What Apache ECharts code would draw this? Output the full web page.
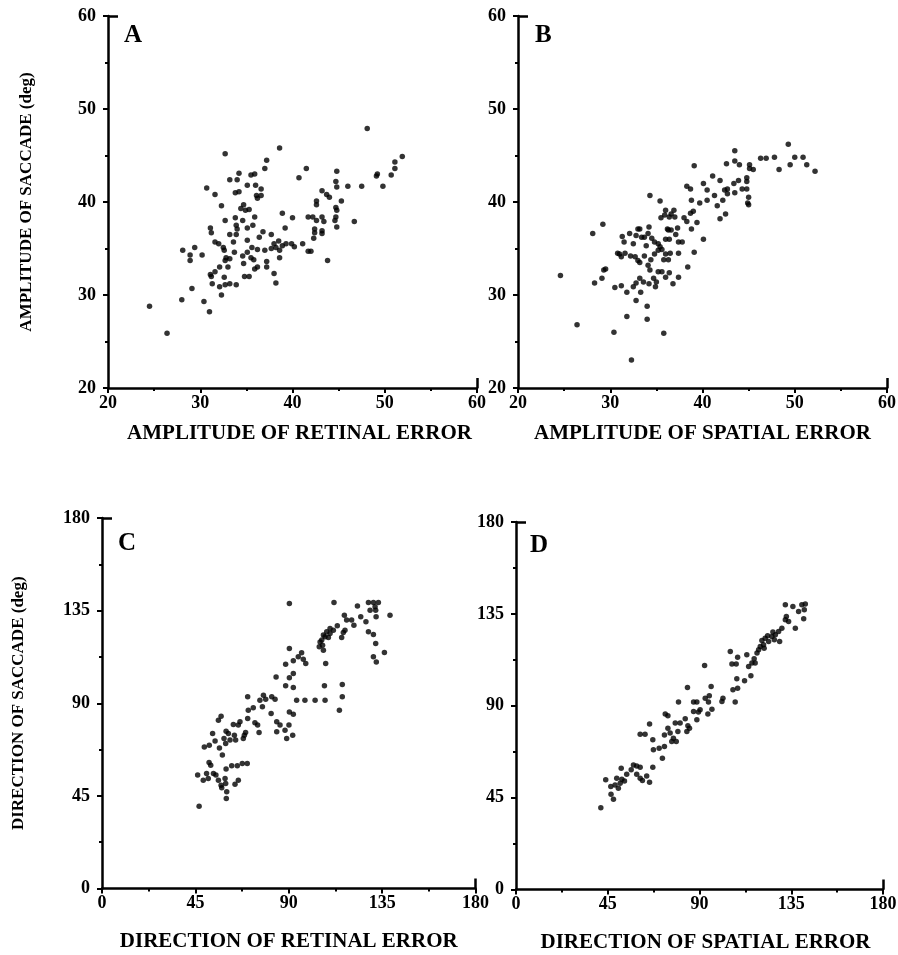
<!DOCTYPE html>
<html>
<head>
<meta charset="utf-8">
<script src="https://cdn.jsdelivr.net/npm/echarts@6.0.0/dist/echarts.min.js"></script>
<style>
  html, body { margin: 0; padding: 0; background: #fff; }
  #chart { width: 898px; height: 955px; }
</style>
</head>
<body>
<div id="chart"></div>
<script>
// A: amplitude of retinal error vs amplitude of saccade (deg)
const retinalAmp = [
  24.5,28.0,30.4,31.0,29.1,32.3,28.1,29.4,28.9,28.9,
  30.2,30.7,31.6,32.7,32.3,32.7,31.1,31.2,31.6,32.0,
  32.5,32.6,33.2,33.2,34.0,34.2,33.8,34.2,35.1,35.5,
  35.9,36.0,36.6,36.1,36.2,36.6,34.7,34.4,34.9,35.3,
  33.8,34.6,33.9,34.0,35.1,35.7,35.9,36.8,36.4,37.7,
  33.9,33.6,35.1,33.7,34.6,35.1,35.6,35.5,35.8,34.7,
  36.2,37.0,32.8,33.2,32.7,33.0,32.1,31.6,31.1,31.2,
  32.6,31.3,32.1,32.7,33.2,33.9,34.8,35.3,35.9,36.2,
  37.2,37.2,38.0,38.2,38.6,37.2,37.0,38.9,40.0,39.2,
  40.7,37.7,38.0,38.5,38.9,39.3,39.9,40.2,38.6,38.6,38.2,26.4,
  48.1,51.9,51.1,51.1,50.7,49.1,49.2,49.8,47.5,46.0,
  44.8,44.7,44.8,45.3,43.2,43.7,44.0,42.6,42.6,44.7,
  44.8,44.7,44.6,44.8,46.7,43.2,43.4,42.2,41.7,42.6,
  42.4,42.4,43.2,43.2,42.3,41.5,41.1,41.7,42.0,43.8
];
const saccadeAmpA = [
  28.8,29.5,29.3,28.2,30.7,30.0,34.8,35.1,34.3,33.7,
  34.3,41.5,40.8,45.2,39.6,38.0,37.2,36.7,35.7,35.5,
  35.1,34.8,36.5,42.4,42.4,43.1,41.0,41.1,41.8,42.9,
  43.0,41.8,41.4,40.7,40.4,40.7,39.7,39.3,39.1,39.2,
  38.3,38.0,37.5,37.1,37.2,37.5,38.4,36.8,36.2,36.5,
  36.5,35.7,35.9,34.6,34.2,34.6,35.1,34.0,33.8,33.4,
  34.9,34.8,34.0,33.9,33.7,33.0,33.0,32.5,32.2,32.0,
  31.9,31.2,30.9,31.1,31.2,31.1,32.0,32.0,32.8,33.0,
  33.6,33.0,32.3,31.3,45.8,44.5,43.6,38.8,38.3,37.2,
  42.6,35.0,35.5,35.8,35.3,35.5,35.5,35.2,34.8,34.0,35.1,25.9,
  47.9,44.9,44.3,43.6,42.9,42.8,43.0,41.7,41.7,41.7,
  43.3,42.2,41.6,40.1,41.2,40.8,40.5,40.1,39.7,39.4,
  39.1,38.4,38.0,37.3,37.9,38.4,37.9,38.4,38.4,38.0,
  37.1,36.7,36.9,36.6,36.1,43.6,35.5,34.7,34.7,33.7
];

// B: amplitude of spatial error vs amplitude of saccade (deg)
const spatialAmp = [
  24.6,26.4,28.1,29.2,28.3,29.1,29.3,29.5,30.5,31.2,
  31.8,30.4,32.3,31.8,32.8,33.3,34.0,34.0,35.8,32.5,
  32.8,33.2,33.6,34.2,34.7,34.9,35.0,35.6,36.0,36.4,
  36.8,37.4,38.4,39.1,40.1,31.3,31.5,30.8,31.2,31.0,
  31.6,32.1,32.5,32.2,32.7,33.0,33.2,33.0,33.2,32.8,
  33.4,33.7,34.2,34.1,34.5,33.9,34.8,35.2,35.4,33.7,
  34.4,34.8,35.2,35.6,36.0,35.8,36.5,36.3,37.4,34.1,
  34.3,35.2,36.2,36.0,36.4,36.3,36.6,37.1,37.3,37.4,
  37.8,35.5,35.9,36.0,36.4,36.6,36.9,37.0,35.4,34.3,
  38.0,38.3,38.7,39.0,39.4,38.8,38.8,39.7,38.3,38.7,
  39.1,40.1,
  40.5,41.1,41.9,40.5,41.3,41.6,42.2,41.9,42.5,42.4,
  42.7,42.7,42.6,43.5,43.5,44.0,43.4,43.9,43.5,44.3,
  44.8,44.8,44.8,45.1,45.1,45.5,45.0,44.9,45.0,46.3,
  46.9,47.8,48.3,49.3,49.5,50.0,50.9,51.3,52.2
];
const saccadeAmpB = [
  32.1,26.8,36.6,37.6,31.3,31.8,32.7,32.8,30.8,31.0,
  30.3,26.0,23.0,27.7,29.4,30.3,28.8,27.4,25.9,30.9,
  31.3,31.8,31.4,31.2,31.8,30.9,31.4,32.5,31.9,32.4,
  31.2,31.9,33.0,34.6,36.0,36.3,35.7,34.5,34.1,34.4,
  34.5,36.6,35.5,34.2,34.1,33.7,33.5,37.1,37.1,36.4,
  36.2,36.2,37.3,36.6,36.1,35.3,35.7,35.5,35.2,34.2,
  33.8,34.4,34.8,34.9,34.4,33.8,34.5,33.8,34.5,33.2,
  32.7,32.5,37.1,36.0,36.0,37.0,37.0,36.5,37.2,35.7,
  35.7,38.3,38.6,39.1,38.4,38.7,39.1,38.4,40.1,40.7,
  38.3,37.9,38.8,39.0,37.8,37.1,40.2,39.9,41.7,41.4,
  43.9,42.0,
  41.3,42.8,42.3,40.2,40.7,39.6,40.2,38.2,38.7,41.3,
  41.4,40.9,44.1,45.5,44.4,44.0,42.0,42.3,41.0,41.4,
  41.4,42.6,42.2,44.0,43.6,43.5,40.5,39.9,39.7,44.7,
  44.7,44.8,43.5,46.2,44.0,44.8,44.8,44.0,43.3
];

// C: direction of retinal error vs direction of saccade (deg)
const retinalDir = [
  46.8,46.1,48.8,50.4,51.6,52.4,51.2,53.7,54.9,56.1,
  57.4,57.7,59.3,59.6,60.1,59.9,59.8,62.5,65.2,67.6,
  70.0,64.1,65.7,49.3,51.7,53.3,54.5,56.6,58.0,58.8,
  59.8,60.9,59.6,61.7,63.3,63.8,64.4,65.7,66.5,68.6,
  69.2,68.1,56.1,57.4,70.2,70.5,72.9,73.7,75.0,75.7,
  70.2,76.1,77.3,77.8,78.9,81.8,83.4,81.5,84.2,85.8,
  84.2,88.2,90.1,89.0,91.9,83.9,
  90.3,111.8,123.1,128.4,130.8,133.2,131.6,129.2,131.9,132.1,
  138.8,116.8,117.9,120.3,121.4,124.7,127.2,113.4,117.1,116.3,
  115.5,109.9,108.3,107.5,106.7,105.9,105.1,104.7,106.7,106.3,
  109.1,128.4,130.8,131.9,136.1,130.8,132.2,107.8,90.3,88.5,
  92.2,94.6,96.2,97.0,98.2,92.2,90.3,88.5,92.2,107.2,
  115.8,115.8,114.4,93.8,97.8,102.7,107.5,90.3,92.2,
  109.9,111.5
];
const saccadeDirC = [
  40.0,55.1,52.6,55.9,61.2,59.9,53.4,55.9,55.1,52.6,
  50.2,48.9,53.4,51.0,47.0,43.7,58.0,59.6,59.6,60.7,
  60.7,50.7,52.6,68.8,69.6,75.3,71.6,68.3,64.8,72.9,
  76.4,75.3,70.4,72.1,79.7,74.5,72.1,79.4,81.0,74.5,
  75.8,72.9,81.8,83.7,82.6,86.6,87.8,80.5,79.4,75.8,
  93.1,91.5,88.3,93.9,92.0,93.1,92.0,85.0,81.0,79.4,
  76.1,76.9,79.4,72.9,74.5,102.8,
  138.5,139.0,137.3,139.0,139.0,139.0,136.9,135.2,135.2,132.0,
  132.8,132.8,130.4,130.4,127.9,132.0,129.6,127.6,125.5,124.4,
  122.0,123.9,124.7,122.3,123.1,120.7,119.8,117.4,115.8,118.2,
  122.0,124.7,123.4,119.0,114.7,112.6,110.1,109.3,116.6,109.0,
  110.6,112.6,114.5,111.4,109.3,104.5,102.4,98.5,97.7,98.5,
  99.1,93.1,86.6,91.5,91.5,91.5,91.5,85.8,84.7,
  126.3,125.5
];

// D: direction of spatial error vs direction of saccade (deg)
const spatialDir = [
  41.6,44.0,46.6,47.8,46.5,48.6,50.2,49.4,51.1,51.9,
  53.2,51.6,54.3,56.5,57.6,59.2,60.9,59.2,60.9,62.0,
  64.1,65.5,67.1,60.9,63.3,65.5,67.1,67.4,70.2,71.8,
  72.8,72.8,74.5,73.2,74.5,75.6,77.2,78.6,76.4,79.4,
  78.1,80.5,79.7,83.0,83.8,84.3,85.1,84.1,87.1,88.7,
  88.7,89.5,90.3,92.8,94.8,94.1,
  87.1,94.4,96.1,95.7,92.5,101.5,101.0,107.5,106.4,108.7,
  112.1,115.2,108.3,105.1,105.9,108.0,108.7,113.2,114.1,115.7,
  117.3,116.8,118.2,119.8,119.0,121.4,122.2,123.4,123.9,125.5,
  127.2,126.7,129.3,128.8,130.4,132.1,132.6,133.7,137.0,132.1,
  135.8,140.2,141.9,141.4,138.6,141.1,126.0,120.6,121.7
];
const saccadeDirD = [
  40.0,53.7,46.7,44.2,50.4,51.2,49.6,54.5,52.1,54.0,
  53.2,59.4,56.5,58.6,61.0,60.5,59.9,56.5,54.5,53.4,
  55.6,52.5,59.9,76.1,76.1,81.1,73.3,68.4,69.2,64.3,
  70.0,75.7,79.0,86.0,85.1,76.6,74.1,72.5,72.5,77.4,
  81.5,81.5,91.8,83.6,77.4,80.2,79.0,98.9,91.8,91.8,
  83.1,86.9,88.0,93.7,94.9,86.0,
  87.2,91.8,88.3,99.4,109.7,93.7,92.1,91.8,97.8,98.6,
  102.2,104.7,103.2,116.6,110.4,110.4,113.8,115.0,109.2,110.9,
  110.9,113.0,115.8,119.0,117.4,119.9,123.1,124.3,121.5,123.9,
  124.8,122.3,121.5,126.4,128.0,132.1,133.7,131.3,128.0,139.5,
  138.6,139.5,139.8,137.0,136.2,132.6,126.1,122.0,118.2
];

const panelLetters = ['A', 'B', 'C', 'D'];
const xNames = ['AMPLITUDE OF RETINAL ERROR', 'AMPLITUDE OF SPATIAL ERROR',
                'DIRECTION OF RETINAL ERROR', 'DIRECTION OF SPATIAL ERROR'];
const yNames = ['AMPLITUDE OF SACCADE (deg)', '', 'DIRECTION OF SACCADE (deg)', ''];
const ampRange = [20, 60, 10];   // min, max, interval
const dirRange = [0, 180, 45];

const FONT = '"Liberation Serif", "Times New Roman", serif';
const BLACK = '#000';

const chart = echarts.init(document.getElementById('chart'), null, {renderer: 'canvas'});

const panels = [
  {x: retinalAmp, y: saccadeAmpA, range: ampRange, grid: {left: 108, top: 16, width: 369, height: 372},
   letter: {left: 124, top: 23}, xGap: 35, xPad: [0, 0, 0, 14], yGap: 73},
  {x: spatialAmp, y: saccadeAmpB, range: ampRange, grid: {left: 518, top: 16, width: 369, height: 372},
   letter: {left: 535, top: 23}, xGap: 35, xPad: 0, yGap: 73},
  {x: retinalDir, y: saccadeDirC, range: dirRange, grid: {left: 102, top: 518, width: 373.5, height: 370.5},
   letter: {left: 118, top: 531}, xGap: 43, xPad: 0, yGap: 75},
  {x: spatialDir, y: saccadeDirD, range: dirRange, grid: {left: 516, top: 522, width: 367, height: 367.5},
   letter: {left: 530, top: 533}, xGap: 43, xPad: [0, 0, 0, 12], yGap: 75}
];

const axisBase = (i, range) => ({
  gridIndex: i,
  type: 'value',
  min: range[0],
  max: range[1],
  interval: range[2],
  splitLine: {show: false},
  axisLine: {show: true, onZero: false, lineStyle: {color: BLACK, width: 2.5}},
  axisTick: {show: true, inside: false, length: 5, lineStyle: {color: BLACK, width: 2}},
  minorTick: {show: true, splitNumber: 2, length: 3, lineStyle: {color: BLACK, width: 2}},
  minorSplitLine: {show: false}
});

// extra axes only to draw the cap at the far end of each axis
const capAxis = (i, range, pos) => ({
  gridIndex: i,
  type: 'value',
  position: pos,
  min: range[0],
  max: range[1],
  interval: range[2],
  splitLine: {show: false},
  axisLine: {show: false},
  axisLabel: {show: false},
  axisTick: {show: true, inside: true, length: 10, customValues: [range[1]],
             lineStyle: {color: BLACK, width: 2.5}}
});

const xAxis = [];
const yAxis = [];
const series = [];
const title = [];

panels.forEach((p, i) => {
  xAxis.push(Object.assign(axisBase(i, p.range), {
    position: 'bottom',
    name: xNames[i],
    nameLocation: 'middle',
    nameGap: p.xGap,
    nameTextStyle: {fontFamily: FONT, fontWeight: 'bold', fontSize: 21, color: BLACK, padding: p.xPad},
    axisLabel: {fontFamily: FONT, fontWeight: 'bold', fontSize: 18, color: BLACK, margin: 6}
  }));
  yAxis.push(Object.assign(axisBase(i, p.range), {
    position: 'left',
    name: yNames[i],
    nameLocation: 'middle',
    nameGap: p.yGap,
    nameTextStyle: {fontFamily: FONT, fontWeight: 'bold', fontSize: 17, color: BLACK},
    axisLabel: {fontFamily: FONT, fontWeight: 'bold', fontSize: 18, color: BLACK, margin: 12}
  }));
  series.push({
    type: 'scatter',
    xAxisIndex: i,
    yAxisIndex: i,
    symbol: 'circle',
    symbolSize: 5.5,
    itemStyle: {color: BLACK},
    data: p.x.map((v, k) => [v, p.y[k]])
  });
  title.push({
    text: panelLetters[i],
    left: p.letter.left,
    top: p.letter.top,
    padding: 0,
    textStyle: {fontFamily: FONT, fontWeight: 'bold', fontSize: 25, color: BLACK}
  });
});

panels.forEach((p, i) => {
  xAxis.push(capAxis(i, p.range, 'bottom'));
  yAxis.push(capAxis(i, p.range, 'left'));
});

chart.setOption({
  animation: false,
  backgroundColor: '#fff',
  title: title,
  grid: panels.map(p => Object.assign({containLabel: false, outerBoundsMode: 'none'}, p.grid)),
  xAxis: xAxis,
  yAxis: yAxis,
  series: series
});
</script>
</body>
</html>
